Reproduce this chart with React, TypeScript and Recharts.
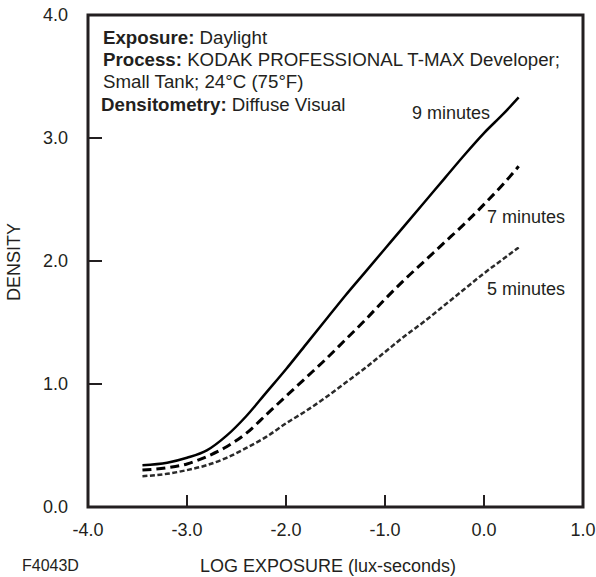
import React from "react";
import { LineChart, Line, XAxis, YAxis, ReferenceArea } from "recharts";

// Характеристические кривые: лог экспозиции -> оптическая плотность
const logExposure = [
  -3.45, -3.2, -3.0, -2.8, -2.6, -2.4, -2.2, -2.0, -1.8, -1.6, -1.4, -1.2,
  -1.0, -0.8, -0.6, -0.4, -0.2, 0.0, 0.2, 0.35,
];
const density9min = [
  0.34, 0.36, 0.4, 0.46, 0.58, 0.74, 0.93, 1.12, 1.32, 1.52, 1.72, 1.91,
  2.1, 2.29, 2.48, 2.67, 2.86, 3.04, 3.2, 3.33,
];
const density7min = [
  0.3, 0.32, 0.35, 0.41, 0.49, 0.6, 0.75, 0.9, 1.05, 1.2, 1.36, 1.52, 1.69,
  1.85, 2.0, 2.15, 2.3, 2.46, 2.63, 2.77,
];
const density5min = [
  0.25, 0.27, 0.3, 0.34, 0.4, 0.48, 0.57, 0.68, 0.78, 0.89, 1.01, 1.13,
  1.26, 1.39, 1.51, 1.64, 1.77, 1.9, 2.02, 2.11,
];

const xTicks = [-4, -3, -2, -1, 0, 1];
const yTicks = [0, 1, 2, 3, 4];

const INK = "#231f20";
const FONT = "'Liberation Sans', Arial, sans-serif";

const data = logExposure.map((x, i) => ({
  x,
  d9: density9min[i],
  d7: density7min[i],
  d5: density5min[i],
}));

const XTick = (props: any) => {
  const { x, y, payload } = props;
  const v = payload.value as number;
  const inner = v > xTicks[0] && v < xTicks[xTicks.length - 1];
  return (
    <g>
      {inner && (
        <line x1={x} x2={x} y1={y} y2={y - 12} stroke={INK} strokeWidth={2} />
      )}
      <text
        x={x}
        y={y + 29}
        textAnchor="middle"
        fill={INK}
        fontSize={18}
        fontFamily={FONT}
      >
        {v.toFixed(1)}
      </text>
    </g>
  );
};

const YTick = (props: any) => {
  const { x, y, payload } = props;
  const v = payload.value as number;
  const inner = v > yTicks[0] && v < yTicks[yTicks.length - 1];
  return (
    <g>
      {inner && (
        <line x1={x} x2={x + 14} y1={y} y2={y} stroke={INK} strokeWidth={2} />
      )}
      <text
        x={x - 20}
        y={y + 6}
        textAnchor="end"
        fill={INK}
        fontSize={18}
        fontFamily={FONT}
      >
        {v.toFixed(1)}
      </text>
    </g>
  );
};

const textStyle: React.CSSProperties = {
  position: "absolute",
  fontFamily: FONT,
  fontSize: 18,
  lineHeight: "20px",
  color: INK,
  whiteSpace: "nowrap",
};

const noteStyle: React.CSSProperties = { ...textStyle, fontSize: 18.7 };

export default function App() {
  return (
    <div
      style={{
        position: "absolute",
        left: 0,
        top: 0,
        width: 596,
        height: 577,
        background: "#fff",
      }}
    >
      <LineChart
        width={596}
        height={577}
        data={data}
        margin={{ top: 15, right: 13, bottom: 0, left: 0 }}
      >
        <XAxis
          type="number"
          dataKey="x"
          domain={[-4, 1]}
          ticks={xTicks}
          height={70}
          axisLine={false}
          tickLine={false}
          tickSize={0}
          tickMargin={0}
          tick={<XTick />}
          interval={0}
        />
        <YAxis
          type="number"
          domain={[0, 4]}
          ticks={yTicks}
          width={88}
          axisLine={false}
          tickLine={false}
          tickSize={0}
          tickMargin={0}
          tick={<YTick />}
          interval={0}
        />
        <ReferenceArea
          x1={-4}
          x2={1}
          y1={0}
          y2={4}
          fill="none"
          fillOpacity={0}
          stroke={INK}
          strokeWidth={3}
          ifOverflow="visible"
        />
        <Line
          type="monotone"
          dataKey="d9"
          stroke="#000"
          strokeWidth={2.5}
          dot={false}
          isAnimationActive={false}
        />
        <Line
          type="monotone"
          dataKey="d7"
          stroke="#000"
          strokeWidth={3}
          strokeDasharray="9 5"
          dot={false}
          isAnimationActive={false}
        />
        <Line
          type="monotone"
          dataKey="d5"
          stroke="#2a2a2a"
          strokeWidth={2.5}
          strokeDasharray="5 2.5"
          dot={false}
          isAnimationActive={false}
        />
      </LineChart>

      <div style={{ ...noteStyle, left: 103, top: 28 }}>
        <b>Exposure:</b> Daylight
      </div>
      <div style={{ ...noteStyle, left: 103, top: 50 }}>
        <b>Process:</b> KODAK PROFESSIONAL T-MAX Developer;
      </div>
      <div style={{ ...noteStyle, left: 103, top: 72 }}>
        Small Tank; 24°C (75°F)
      </div>
      <div style={{ ...noteStyle, left: 101, top: 95 }}>
        <b>Densitometry:</b> Diffuse Visual
      </div>

      <div style={{ ...textStyle, left: 412, top: 103 }}>9 minutes</div>
      <div style={{ ...textStyle, left: 487, top: 207 }}>7 minutes</div>
      <div style={{ ...textStyle, left: 487, top: 279 }}>5 minutes</div>

      <div style={{ ...textStyle, left: 200, top: 556 }}>
        LOG EXPOSURE (lux-seconds)
      </div>
      <div style={{ ...textStyle, left: 22, top: 556, fontSize: 16 }}>
        F4043D
      </div>
      <div
        style={{
          ...textStyle,
          left: 14,
          top: 262,
          transform: "translate(-50%, -50%) rotate(-90deg)",
        }}
      >
        DENSITY
      </div>
    </div>
  );
}
